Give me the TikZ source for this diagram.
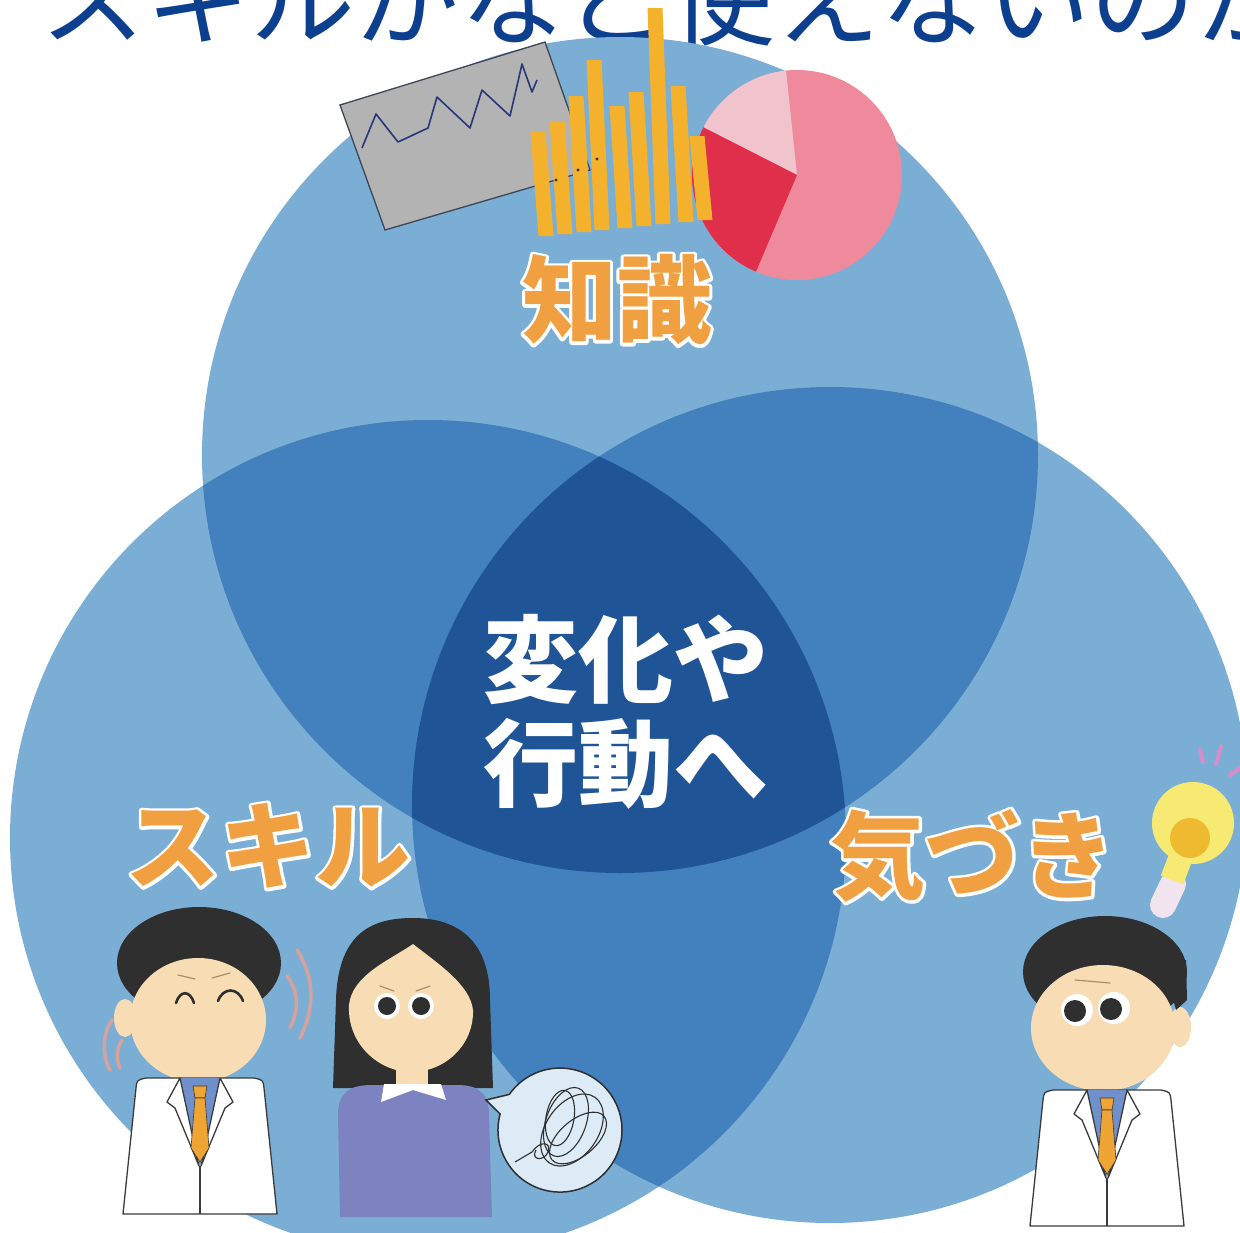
\documentclass[tikz,border=0pt]{standalone}
\usepackage{fontspec}
\newfontfamily\jpfont{Noto Sans CJK JP}
\usetikzlibrary{positioning}

\definecolor{setlight}{HTML}{7BAED5}
\definecolor{setmid}{HTML}{4281BD}
\definecolor{setdark}{HTML}{1F5596}
\definecolor{headblue}{HTML}{0D3F8F}
\definecolor{labelorange}{HTML}{F0A040}
\definecolor{bargold}{HTML}{F4B22C}
\definecolor{piepink}{HTML}{EE8A9B}
\definecolor{pielight}{HTML}{F1C3CC}
\definecolor{piered}{HTML}{DF2F4A}
\definecolor{cardgray}{HTML}{B3B3B3}
\definecolor{cardedge}{HTML}{3C4656}
\definecolor{zigzag}{HTML}{27377A}
\definecolor{skin}{HTML}{F8DDB4}
\definecolor{hair}{HTML}{2F2F2F}
\definecolor{brow}{HTML}{B08A70}
\definecolor{shirt}{HTML}{7090CC}
\definecolor{tiecol}{HTML}{EFA534}
\definecolor{coatedge}{HTML}{3A3A3A}
\definecolor{sweater}{HTML}{7D83C0}
\definecolor{bubblecol}{HTML}{DDEBF6}
\definecolor{bulbcol}{HTML}{F6EA72}
\definecolor{bulbcore}{HTML}{EEBB30}
\definecolor{bulbbase}{HTML}{F2E4EE}
\definecolor{wiggle}{HTML}{D6A39C}
\definecolor{ray}{HTML}{D58FC6}

\tikzset{
  labeltext/.style={inner sep=0pt, font=\jpfont\bfseries\fontsize{95}{100}\selectfont},
  coat/.style={fill=white, draw=coatedge, line width=1.3, line join=round},
  coatline/.style={draw=coatedge, line width=1.1},
  feature/.style={draw=hair, line width=2.6, line cap=round},
  browline/.style={draw=brow, line width=1.2, line cap=round},
  wiggly/.style={draw=wiggle, line width=3.5, line cap=round},
  scribble/.style={draw=hair, line width=1.1},
  labcoat/.pic={
    \filldraw[coat] (-77,136) -- (-64,10) .. controls (-63,2) .. (-54,0)
      -- (54,0) .. controls (63,2) .. (64,10) -- (77,136) -- cycle;
    \fill[shirt] (-20,0) -- (20,0) -- (0,88) -- cycle;
    \filldraw[coat] (-20,0) -- (-33,24) -- (-25,30) -- (-1,88) -- cycle;
    \filldraw[coat] (20,0) -- (33,24) -- (25,30) -- (1,88) -- cycle;
    \filldraw[fill=tiecol, draw=coatedge, line width=0.6] (-7,8) -- (7,8) -- (5,20) -- (-5,20) -- cycle;
    \filldraw[fill=tiecol, draw=coatedge, line width=0.6] (-5,20) -- (5,20) -- (9,70) -- (0,84) -- (-9,70) -- cycle;
    \draw[coatline] (0,88) -- (0,136);
  }
}

% stroked copy underneath gives the pale rim
\newcommand\rimtext[4]{%
  \node[labeltext, text=white] (#1rim) at (#2)
    {\special{pdf:literal direct 2 Tr 6 w 1 j}#4\special{pdf:literal direct 0 Tr}};
  \node[labeltext, text=#3] (#1) at (#2) {#4};}

\begin{document}
\begin{tikzpicture}[x=1pt,y=-1pt]
\useasboundingbox (0,0) rectangle (1240,1232);
\clip (0,0) rectangle (1240,1232);

% heading line, cut off by the top edge
\node[anchor=base west, inner sep=0pt, text=headblue,
      font=\jpfont\fontsize{105}{110}\selectfont] (heading) at (40,37) {スキルがなど使えないのか};

% three sets
\def\setr{418}
\coordinate (know) at (620,455);
\coordinate (skill) at (428,838);
\coordinate (aware) at (830,805);
\fill[setlight] (know) circle (\setr) (skill) circle (\setr) (aware) circle (\setr);
\begin{scope}
  \clip (know) circle (\setr);
  \fill[setmid] (skill) circle (\setr) (aware) circle (\setr);
\end{scope}
\begin{scope}
  \clip (skill) circle (\setr);
  \fill[setmid] (aware) circle (\setr);
\end{scope}
\begin{scope}
  \clip (know) circle (\setr);
  \clip (skill) circle (\setr);
  \fill[setdark] (aware) circle (\setr);
\end{scope}

% pie chart
\coordinate (pie) at (797,175);
\fill[piepink] (pie) circle (105);
\fill[pielight] (pie) -- ++(-96:105) arc[start angle=-96, end angle=-153, radius=105] -- cycle;
\fill[piered] (pie) -- ++(-153:105) arc[start angle=-153, end angle=-247, radius=105] -- cycle;

% line chart card
\filldraw[fill=cardgray, draw=cardedge, line width=1.3] (340,105) -- (545,42) -- (590,170) -- (385,230) -- cycle;
\draw[zigzag, line width=1.6, line join=round]
  (362,148) -- (376,114) -- (398,142) -- (428,128) -- (437,97) -- (470,128)
  -- (482,90) -- (510,116) -- (522,64) -- (532,92) -- (537,80);

% bar chart
\foreach \bx/\bb/\bt in {546/236/132, 565/234/121, 584/232/96, 602/230/60,
    625/228/106, 644/226/92, 663/224/8, 686/222/86, 705/220/136}
  \fill[bargold] (\bx-7.5,\bb) -- (\bx+7.5,\bb) -- (\bx-0.5,\bt) -- (\bx-15.5,\bt) -- cycle;
\foreach \dx/\dy in {556/180, 578/170, 597/159}
  \fill[hair] (\dx,\dy) circle (1.6);

% set labels
\rimtext{knowlabel}{617,300}{labelorange}{知識}
\rimtext{skilllabel}{268,846}{labelorange}{スキル}
\rimtext{awarelabel}{973,856}{labelorange}{気づき}
\node[labeltext, text=white, align=center,
      font=\jpfont\bfseries\fontsize{95}{104}\selectfont] (centre) at (626,712) {変化や\\行動へ};

% light bulb
\draw[bulbbase, line width=26, line cap=round] (1173,884) -- (1163,905);
\draw[bulbcol, line width=24] (1191,830) -- (1172,880);
\fill[bulbcol] (1193,823) circle (41);
\fill[bulbcore] (1190,838) circle (20);
\draw[ray, line width=4, line cap=round] (1200,750) -- (1203,762);
\draw[ray, line width=4, line cap=round] (1221,747) -- (1216,764);
\draw[ray, line width=4, line cap=round] (1230,775) -- (1240,768);

% smiling doctor
\draw[wiggly] (297,950) .. controls (316,980) and (314,1010) .. (300,1038);
\draw[wiggly] (287,976) .. controls (299,992) and (299,1010) .. (290,1028);
\draw[wiggly] (112,1020) .. controls (102,1035) and (102,1055) .. (110,1070);
\draw[wiggly] (122,1040) .. controls (116,1050) and (116,1060) .. (120,1068);
\fill[hair] (199,963) ellipse[x radius=82, y radius=56];
\fill[skin] (125,1018) ellipse[x radius=11, y radius=19];
\fill[skin] (198,1020) ellipse[x radius=68, y radius=62];
\draw[browline] (178,975) -- (195,979);
\draw[browline] (212,978) -- (230,973);
\draw[feature] (176,1003) .. controls (180,990) and (190,990) .. (194,1003);
\draw[feature] (218,1001) .. controls (223,987) and (238,987) .. (243,1001);
\pic at (200,1078) {labcoat};

% puzzled woman
\fill[hair] (333,1088) -- (336,1000) .. controls (338,930) and (375,918) .. (413,918)
  .. controls (452,918) and (490,935) .. (490,1000) -- (493,1088) -- cycle;
\fill[skin] (396,1050) rectangle (428,1090);
\fill[skin] (413,944) .. controls (390,960) and (352,975) .. (349,1005)
  .. controls (347,1045) and (380,1072) .. (411,1072)
  .. controls (445,1072) and (474,1045) .. (473,1010)
  .. controls (470,985) and (440,965) .. (413,944) -- cycle;
\draw[browline] (380,986) -- (394,991);
\draw[browline] (416,991) -- (430,986);
\fill[white] (387,1006) circle (13) (421,1006) circle (13);
\fill[hair] (387,1006) circle (9) (421,1006) circle (9);
\fill[sweater] (340,1217) -- (338,1115) .. controls (338,1092) and (350,1085) .. (372,1085)
  -- (458,1085) .. controls (480,1085) and (489,1095) .. (489,1115) -- (492,1217) -- cycle;
\fill[white] (384,1084) -- (441,1084) -- (446,1100) -- (413,1090) -- (381,1102) -- cycle;

% thought bubble with a tangle
\filldraw[fill=bubblecol, draw=hair, line width=1.5]
  (509.2,1094.4) -- (486,1100) -- (500.1,1114) arc[start angle=-165, end angle=-505, radius=62];
\draw[scribble, rotate around={-20:(566,1122)}] (566,1122) ellipse[x radius=20, y radius=36];
\draw[scribble, rotate around={-35:(572,1130)}] (572,1130) ellipse[x radius=26, y radius=40];
\draw[scribble, rotate around={-10:(560,1118)}] (560,1118) ellipse[x radius=14, y radius=28];
\draw[scribble, rotate around={-50:(578,1138)}] (578,1138) ellipse[x radius=18, y radius=34];
\draw[scribble] (515,1162) -- (532,1152) .. controls (540,1140) and (552,1142) .. (548,1152)
  .. controls (544,1162) and (530,1160) .. (536,1150);

% surprised doctor
\fill[hair] (1105,972) ellipse[x radius=82, y radius=56];
\fill[skin] (1180,1027) ellipse[x radius=11, y radius=20];
\fill[skin] (1103,1028) ellipse[x radius=72, y radius=63];
\fill[hair] (1138,966) .. controls (1160,975) and (1172,992) .. (1176,1010)
  -- (1187,1000) -- (1186,960) -- cycle;
\draw[browline] (1075,980) -- (1110,983);
\fill[white] (1077,1010) circle (16) (1114,1008) circle (16);
\fill[hair] (1075,1011) circle (11) (1111,1009) circle (11);
\pic at (1107,1090) {labcoat};

\end{tikzpicture}
\end{document}
